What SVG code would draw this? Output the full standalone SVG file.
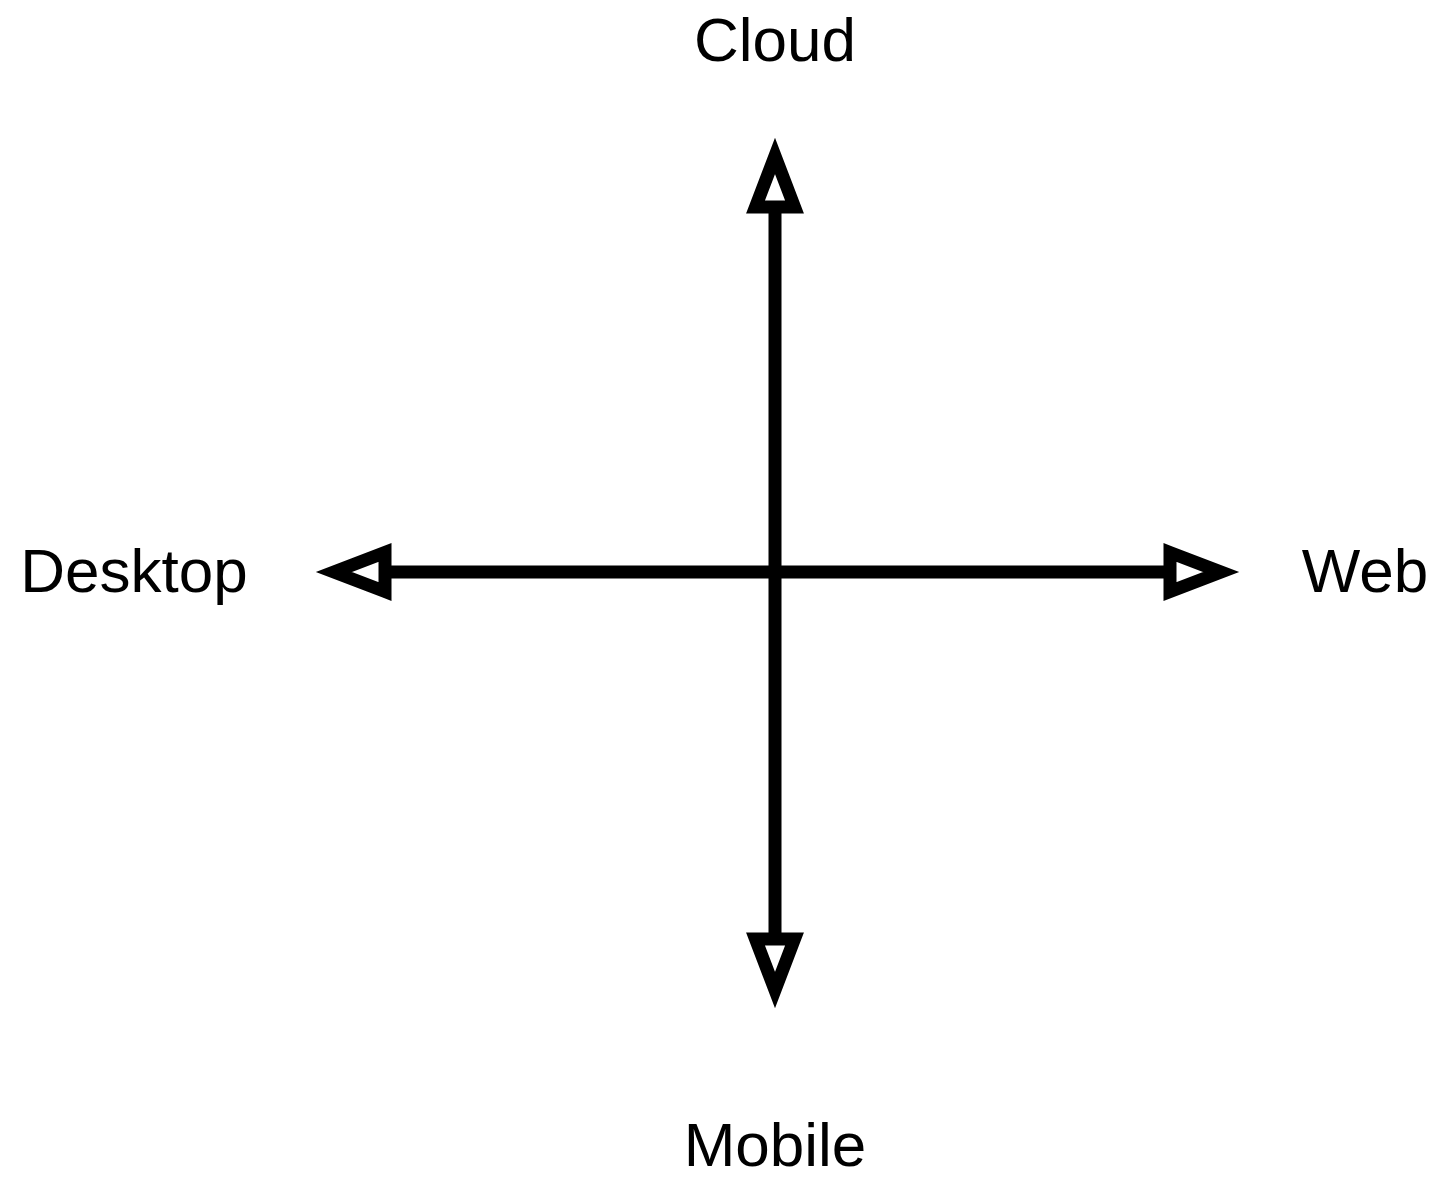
<svg xmlns="http://www.w3.org/2000/svg" width="1438" height="1179" viewBox="0 0 1438 1179">
<style>
.lbl{font-family:"Liberation Sans",Arial,Helvetica,sans-serif;font-size:62px;fill:#000;text-anchor:middle}
.axis{stroke:#000;stroke-width:13;fill:none}
</style>
<defs>
<marker id="ah" markerUnits="userSpaceOnUse" orient="auto-start-reverse" refX="0" refY="0" markerWidth="80" markerHeight="80" viewBox="-10 -40 80 80" overflow="visible">
<polygon points="0,-19.5 51,0 0,19.5" fill="#fff" stroke="#000" stroke-width="13" stroke-linejoin="miter" stroke-miterlimit="10"/>
</marker>
</defs>
<rect width="1438" height="1179" fill="#fff"/>
<g id="connectors">
<line class="axis" x1="775" y1="939" x2="775" y2="207" marker-start="url(#ah)" marker-end="url(#ah)"/>
<line class="axis" x1="385" y1="572" x2="1170" y2="572" marker-start="url(#ah)" marker-end="url(#ah)"/>
</g>
<g id="cloud"><text class="lbl" x="775" y="61">Cloud</text></g>
<g id="desktop"><text class="lbl" x="134" y="592">Desktop</text></g>
<g id="web"><text class="lbl" x="1365" y="592">Web</text></g>
<g id="mobile"><text class="lbl" x="775" y="1166">Mobile</text></g>
</svg>
